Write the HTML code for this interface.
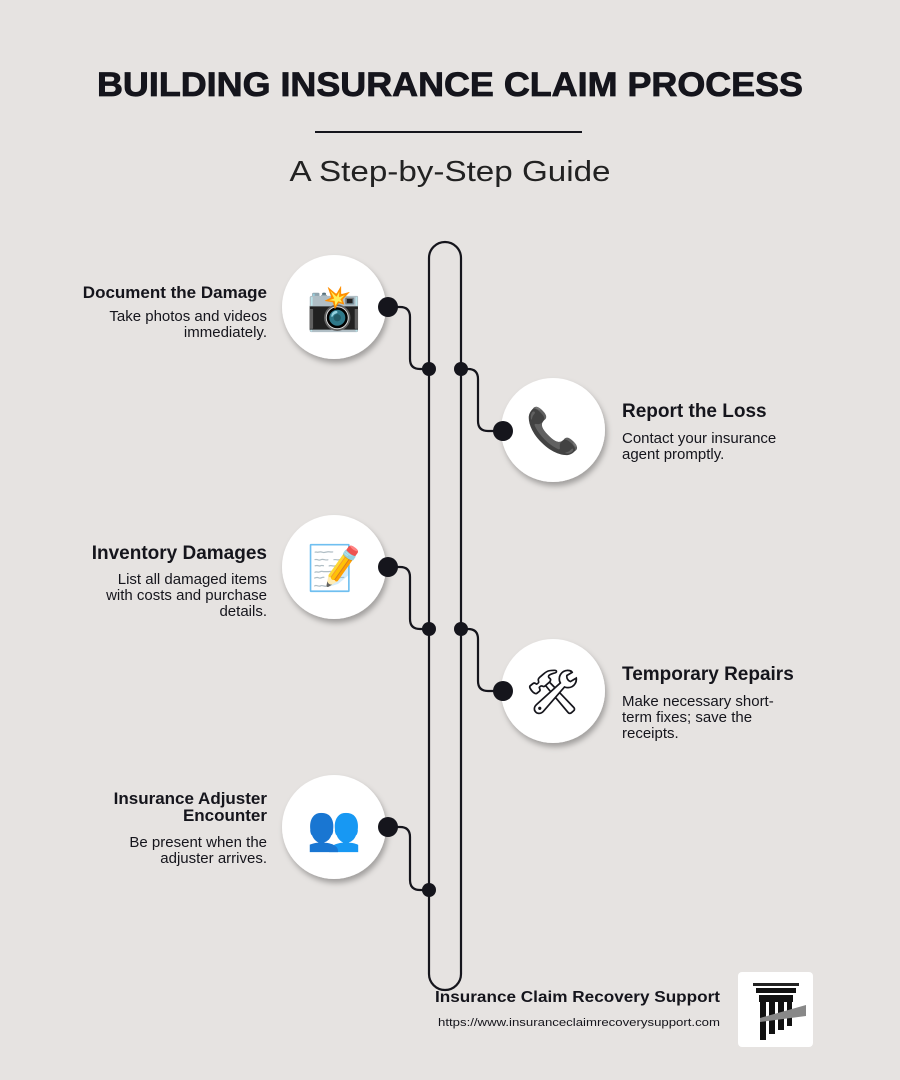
<!DOCTYPE html>
<html><head><meta charset="utf-8"><style>
html,body{margin:0;padding:0;background:#e6e3e1;}
svg{display:block}
text{font-family:"Liberation Sans","DejaVu Sans",sans-serif;fill:#15151c}
</style></head><body>
<svg width="900" height="1080" viewBox="0 0 900 1080" xmlns="http://www.w3.org/2000/svg">
<defs>
<filter id="sh" x="-30%" y="-30%" width="160%" height="160%"><feDropShadow dx="2" dy="4" stdDeviation="3" flood-color="#000" flood-opacity="0.3"/></filter>
</defs>
<rect width="900" height="1080" fill="#e6e3e1"/>
<text x="450" y="96" text-anchor="middle" font-size="34" font-weight="bold" stroke="#15151c" stroke-width="0.8" textLength="706" lengthAdjust="spacingAndGlyphs">BUILDING INSURANCE CLAIM PROCESS</text>
<rect x="315" y="131" width="267" height="2" fill="#15151c"/>
<text x="450" y="181" text-anchor="middle" font-size="29" textLength="321" lengthAdjust="spacingAndGlyphs" style="fill:#222">A Step-by-Step Guide</text>

<!-- spine -->
<path d="M429 974 V258 A16 16 0 0 1 461 258 V974 A16 16 0 0 1 429 974" fill="none" stroke="#15151c" stroke-width="2.2"/>

<g fill="none" stroke="#15151c" stroke-width="2.2">
<path d="M388 307 H400 Q410 307 410 317 V359 Q410 369 420 369 H429"/>
<path d="M461 369 H468 Q478 369 478 379 V421 Q478 431 488 431 H503"/>
<path d="M388 567 H400 Q410 567 410 577 V619 Q410 629 420 629 H429"/>
<path d="M461 629 H468 Q478 629 478 639 V681 Q478 691 488 691 H503"/>
<path d="M388 827 H400 Q410 827 410 837 V880 Q410 890 420 890 H429"/>
</g>

<g fill="#fff" filter="url(#sh)">
<circle cx="334" cy="307" r="52"/>
<circle cx="553" cy="430" r="52"/>
<circle cx="334" cy="567" r="52"/>
<circle cx="553" cy="691" r="52"/>
<circle cx="334" cy="827" r="52"/>
</g>
<g font-size="44" text-anchor="middle" style="font-family:'Noto Color Emoji','DejaVu Sans',sans-serif">
<text x="334" y="323">📸</text>
<text x="553" y="446">📞</text>
<text x="334" y="583">📝</text>
<text x="553" y="707">🛠</text>
<text x="334" y="843">👥</text>
</g>

<g fill="#15151c">
<circle cx="388" cy="307" r="10"/><circle cx="429" cy="369" r="7"/><circle cx="461" cy="369" r="7"/><circle cx="503" cy="431" r="10"/>
<circle cx="388" cy="567" r="10"/><circle cx="429" cy="629" r="7"/><circle cx="461" cy="629" r="7"/><circle cx="503" cy="691" r="10"/>
<circle cx="388" cy="827" r="10"/><circle cx="429" cy="890" r="7"/>
</g>

<g text-anchor="end">
<text x="267" y="298" font-size="17" font-weight="bold">Document the Damage</text>
<text x="267" y="321" font-size="15">Take photos and videos</text>
<text x="267" y="337" font-size="15">immediately.</text>
<text x="267" y="559" font-size="19" font-weight="bold">Inventory Damages</text>
<text x="267" y="584" font-size="15">List all damaged items</text>
<text x="267" y="600" font-size="15">with costs and purchase</text>
<text x="267" y="616" font-size="15">details.</text>
<text x="267" y="804" font-size="17" font-weight="bold">Insurance Adjuster</text>
<text x="267" y="821" font-size="17" font-weight="bold">Encounter</text>
<text x="267" y="847" font-size="15">Be present when the</text>
<text x="267" y="863" font-size="15">adjuster arrives.</text>
</g>
<g>
<text x="622" y="417" font-size="19" font-weight="bold">Report the Loss</text>
<text x="622" y="443" font-size="15">Contact your insurance</text>
<text x="622" y="459" font-size="15">agent promptly.</text>
<text x="622" y="680" font-size="19" font-weight="bold">Temporary Repairs</text>
<text x="622" y="706" font-size="15">Make necessary short-</text>
<text x="622" y="722" font-size="15">term fixes; save the</text>
<text x="622" y="738" font-size="15">receipts.</text>
</g>

<text x="435" y="1002" font-size="16" font-weight="bold" textLength="285" lengthAdjust="spacingAndGlyphs">Insurance Claim Recovery Support</text>
<text x="438" y="1026" font-size="11" textLength="282" lengthAdjust="spacingAndGlyphs">https://www.insuranceclaimrecoverysupport.com</text>

<rect x="738" y="972" width="75" height="75" rx="4" fill="#fff"/>
<rect x="753" y="983" width="46" height="3" fill="#222"/>
<rect x="756" y="988" width="40" height="5" fill="#111"/>
<rect x="759" y="995" width="34" height="7" fill="#111"/>
<rect x="760" y="1002" width="6" height="38" fill="#111"/>
<rect x="769" y="1002" width="6" height="32" fill="#111"/>
<rect x="778" y="1002" width="6" height="28" fill="#111"/>
<rect x="787" y="1002" width="5" height="24" fill="#111"/>
<polygon points="760,1018 806,1005 806,1016 760,1022" fill="#888"/>
</svg>
</body></html>
